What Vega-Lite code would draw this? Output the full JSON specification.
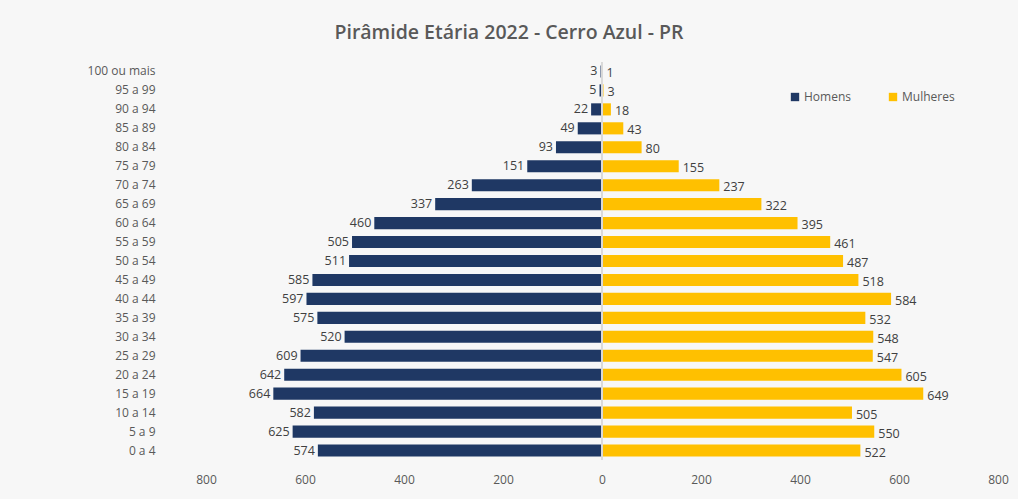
{
  "$schema": "https://vega.github.io/schema/vega-lite/v6.json",
  "width": 792,
  "height": 398,
  "autosize": {"type": "none"},
  "padding": {"left": 206, "top": 62, "right": 20, "bottom": 39},
  "background": "#f7f7f7",
  "config": {
    "view": {"stroke": null},
    "font": "Open Sans"
  },
  "title": {
    "text": "Pirâmide Etária 2022 - Cerro Azul - PR",
    "fontSize": 19.5,
    "fontWeight": 600,
    "color": "#595959",
    "anchor": "middle",
    "dx": -93,
    "offset": 18
  },
  "data": {
    "values": [
      {"idade": "100 ou mais", "sexo": "Homens", "pop": 3},
      {"idade": "95 a 99", "sexo": "Homens", "pop": 5},
      {"idade": "90 a 94", "sexo": "Homens", "pop": 22},
      {"idade": "85 a 89", "sexo": "Homens", "pop": 49},
      {"idade": "80 a 84", "sexo": "Homens", "pop": 93},
      {"idade": "75 a 79", "sexo": "Homens", "pop": 151},
      {"idade": "70 a 74", "sexo": "Homens", "pop": 263},
      {"idade": "65 a 69", "sexo": "Homens", "pop": 337},
      {"idade": "60 a 64", "sexo": "Homens", "pop": 460},
      {"idade": "55 a 59", "sexo": "Homens", "pop": 505},
      {"idade": "50 a 54", "sexo": "Homens", "pop": 511},
      {"idade": "45 a 49", "sexo": "Homens", "pop": 585},
      {"idade": "40 a 44", "sexo": "Homens", "pop": 597},
      {"idade": "35 a 39", "sexo": "Homens", "pop": 575},
      {"idade": "30 a 34", "sexo": "Homens", "pop": 520},
      {"idade": "25 a 29", "sexo": "Homens", "pop": 609},
      {"idade": "20 a 24", "sexo": "Homens", "pop": 642},
      {"idade": "15 a 19", "sexo": "Homens", "pop": 664},
      {"idade": "10 a 14", "sexo": "Homens", "pop": 582},
      {"idade": "5 a 9", "sexo": "Homens", "pop": 625},
      {"idade": "0 a 4", "sexo": "Homens", "pop": 574},
      {"idade": "100 ou mais", "sexo": "Mulheres", "pop": 1},
      {"idade": "95 a 99", "sexo": "Mulheres", "pop": 3},
      {"idade": "90 a 94", "sexo": "Mulheres", "pop": 18},
      {"idade": "85 a 89", "sexo": "Mulheres", "pop": 43},
      {"idade": "80 a 84", "sexo": "Mulheres", "pop": 80},
      {"idade": "75 a 79", "sexo": "Mulheres", "pop": 155},
      {"idade": "70 a 74", "sexo": "Mulheres", "pop": 237},
      {"idade": "65 a 69", "sexo": "Mulheres", "pop": 322},
      {"idade": "60 a 64", "sexo": "Mulheres", "pop": 395},
      {"idade": "55 a 59", "sexo": "Mulheres", "pop": 461},
      {"idade": "50 a 54", "sexo": "Mulheres", "pop": 487},
      {"idade": "45 a 49", "sexo": "Mulheres", "pop": 518},
      {"idade": "40 a 44", "sexo": "Mulheres", "pop": 584},
      {"idade": "35 a 39", "sexo": "Mulheres", "pop": 532},
      {"idade": "30 a 34", "sexo": "Mulheres", "pop": 548},
      {"idade": "25 a 29", "sexo": "Mulheres", "pop": 547},
      {"idade": "20 a 24", "sexo": "Mulheres", "pop": 605},
      {"idade": "15 a 19", "sexo": "Mulheres", "pop": 649},
      {"idade": "10 a 14", "sexo": "Mulheres", "pop": 505},
      {"idade": "5 a 9", "sexo": "Mulheres", "pop": 550},
      {"idade": "0 a 4", "sexo": "Mulheres", "pop": 522}
    ]
  },
  "transform": [
    {"calculate": "datum.sexo === 'Homens' ? -datum.pop : datum.pop", "as": "valor"}
  ],
  "encoding": {
    "y": {
      "field": "idade",
      "type": "nominal",
      "sort": ["100 ou mais", "95 a 99", "90 a 94", "85 a 89", "80 a 84", "75 a 79", "70 a 74", "65 a 69", "60 a 64", "55 a 59", "50 a 54", "45 a 49", "40 a 44", "35 a 39", "30 a 34", "25 a 29", "20 a 24", "15 a 19", "10 a 14", "5 a 9", "0 a 4"],
      "scale": {"paddingInner": 0.36, "paddingOuter": 0.18},
      "axis": {
        "title": null,
        "domain": false,
        "ticks": false,
        "labelPadding": 51,
        "labelFontSize": 12,
        "labelColor": "#595959"
      }
    },
    "x": {
      "field": "valor",
      "type": "quantitative",
      "scale": {"domain": [-800, 800], "nice": false},
      "axis": {
        "title": null,
        "values": [-800, -600, -400, -200, 0, 200, 400, 600, 800],
        "labelExpr": "abs(datum.value)",
        "labelFlush": false,
        "labelOverlap": false,
        "grid": false,
        "domain": false,
        "ticks": false,
        "labelPadding": 14,
        "labelFontSize": 12,
        "labelColor": "#595959"
      }
    }
  },
  "layer": [
    {
      "mark": {"type": "bar"},
      "encoding": {
        "color": {
          "field": "sexo",
          "type": "nominal",
          "scale": {"domain": ["Homens", "Mulheres"], "range": ["#1f3864", "#ffc000"]},
          "legend": {
            "title": null,
            "orient": "none",
            "direction": "horizontal",
            "legendX": 583,
            "legendY": 29,
            "symbolType": "square",
            "symbolSize": 70,
            "symbolStrokeWidth": 0,
            "symbolOpacity": 1,
            "labelFontSize": 12,
            "labelColor": "#595959",
            "columnPadding": 36,
            "labelOffset": 3
          }
        }
      }
    },
    {
      "mark": {"type": "rule", "color": "#d9d9d9", "strokeWidth": 1},
      "encoding": {"x": {"datum": 0}, "y": null}
    },
    {
      "transform": [{"filter": "datum.sexo === 'Homens'"}],
      "mark": {"type": "text", "align": "right", "dx": -3, "fontSize": 12.5, "color": "#404040"},
      "encoding": {"text": {"field": "pop", "type": "quantitative"}}
    },
    {
      "transform": [{"filter": "datum.sexo === 'Mulheres'"}],
      "mark": {"type": "text", "align": "left", "dx": 4, "dy": 2, "fontSize": 12.5, "color": "#404040"},
      "encoding": {"text": {"field": "pop", "type": "quantitative"}}
    }
  ]
}
